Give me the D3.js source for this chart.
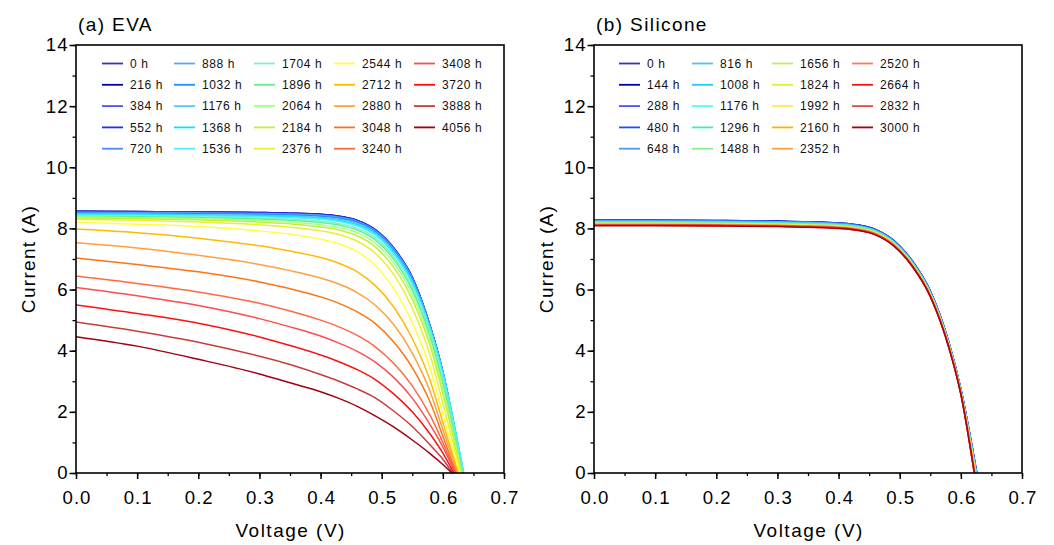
<!DOCTYPE html>
<html><head><meta charset="utf-8">
<script src="https://cdn.jsdelivr.net/npm/d3@7"></script>
<style>
body{margin:0;background:#fff;}
svg{display:block;font-family:"Liberation Sans",Arial,sans-serif;}
</style></head><body>
<svg id="chart" width="1054" height="545"></svg>
<script>
// ---------------- DATA ----------------
const voltageGrid = [0, 0.1, 0.2, 0.3, 0.35, 0.4, 0.43, 0.46, 0.49, 0.52, 0.55, 0.58, 0.6];

const evaHours = ["0 h","216 h","384 h","552 h","720 h","888 h","1032 h","1176 h","1368 h","1536 h","1704 h","1896 h","2064 h","2184 h","2376 h","2544 h","2712 h","2880 h","3048 h","3240 h","3408 h","3720 h","3888 h","4056 h"];
const evaColors = ["#3434b8","#0000b0","#5050f0","#1a30ff","#5088ff","#60a4ff","#1890ff","#60c4ff","#10e0ff","#50f0f8","#80f0d0","#60f090","#a8ff88","#c0f038","#e8f030","#ffff40","#ffbb00","#ffa040","#ff7410","#ff6840","#ff4c4c","#ff1010","#c83c3c","#a00010"];
const evaCurrent = [
  [8.56,8.55,8.54,8.52,8.50,8.46,8.40,8.26,7.95,7.35,6.40,4.75,3.30],
  [8.56,8.55,8.54,8.52,8.50,8.46,8.40,8.26,7.95,7.35,6.40,4.75,3.30],
  [8.55,8.54,8.53,8.51,8.49,8.45,8.39,8.25,7.94,7.34,6.39,4.75,3.30],
  [8.55,8.54,8.53,8.51,8.49,8.45,8.39,8.25,7.94,7.34,6.39,4.75,3.30],
  [8.53,8.52,8.51,8.49,8.47,8.43,8.37,8.23,7.92,7.32,6.37,4.74,3.30],
  [8.52,8.51,8.50,8.48,8.46,8.42,8.36,8.22,7.91,7.31,6.36,4.73,3.30],
  [8.50,8.49,8.48,8.46,8.44,8.40,8.34,8.20,7.89,7.28,6.33,4.72,3.30],
  [8.48,8.47,8.45,8.43,8.41,8.36,8.30,8.16,7.85,7.24,6.28,4.70,3.30],
  [8.46,8.45,8.43,8.40,8.38,8.33,8.26,8.12,7.81,7.20,6.24,4.66,3.26],
  [8.44,8.43,8.41,8.38,8.35,8.30,8.23,8.08,7.77,7.15,6.18,4.62,3.20],
  [8.42,8.40,8.38,8.34,8.31,8.24,8.16,8.01,7.69,7.06,6.08,4.52,3.05],
  [8.40,8.38,8.36,8.31,8.27,8.19,8.11,7.95,7.62,6.98,5.98,4.40,2.92],
  [8.37,8.35,8.32,8.26,8.21,8.12,8.03,7.86,7.51,6.86,5.84,4.26,2.76],
  [8.34,8.32,8.28,8.21,8.15,8.05,7.95,7.76,7.39,6.72,5.68,4.10,2.60],
  [8.30,8.27,8.21,8.12,8.04,7.92,7.80,7.58,7.18,6.48,5.40,3.80,2.28],
  [8.20,8.14,8.06,7.92,7.81,7.65,7.50,7.24,6.78,6.02,4.92,3.38,1.92],
  [7.98,7.86,7.68,7.43,7.26,7.05,6.86,6.58,6.12,5.42,4.40,2.98,1.65],
  [7.53,7.36,7.12,6.82,6.62,6.38,6.18,5.90,5.48,4.85,3.92,2.62,1.42],
  [7.03,6.82,6.58,6.25,6.03,5.76,5.55,5.27,4.88,4.28,3.45,2.28,1.20],
  [6.44,6.20,5.92,5.55,5.30,5.00,4.78,4.50,4.12,3.58,2.85,1.85,1.00],
  [6.07,5.80,5.48,5.05,4.78,4.48,4.25,3.98,3.62,3.12,2.45,1.55,0.85],
  [5.50,5.22,4.90,4.45,4.17,3.86,3.64,3.38,3.05,2.58,2.00,1.25,0.65],
  [4.94,4.64,4.28,3.82,3.55,3.22,3.00,2.75,2.45,2.02,1.52,0.90,0.45],
  [4.46,4.15,3.72,3.24,2.95,2.66,2.44,2.18,1.86,1.50,1.08,0.62,0.28]
];
const evaVoc = [0.632,0.632,0.632,0.632,0.633,0.633,0.633,0.634,0.634,0.634,0.632,0.632,0.631,0.630,0.629,0.627,0.625,0.624,0.622,0.621,0.620,0.618,0.616,0.615];

const siliconeHours = ["0 h","144 h","288 h","480 h","648 h","816 h","1008 h","1176 h","1296 h","1488 h","1656 h","1824 h","1992 h","2160 h","2352 h","2520 h","2664 h","2832 h","3000 h"];
const siliconeColors = ["#3434b8","#0000b0","#5050f0","#1a50ff","#4898ff","#58bcff","#18d0f0","#60f8f0","#38f0b0","#88f088","#b8f068","#e0f030","#ffe860","#ffb000","#ff9c48","#ff7858","#ff1010","#d85050","#a80010"];
const siliconeCurrent = [
  [8.27,8.27,8.26,8.24,8.22,8.18,8.12,7.97,7.61,6.95,5.95,4.30,2.75],
  [8.27,8.27,8.26,8.24,8.22,8.18,8.12,7.97,7.61,6.95,5.95,4.30,2.75],
  [8.26,8.26,8.25,8.23,8.21,8.17,8.11,7.96,7.60,6.94,5.94,4.29,2.74],
  [8.26,8.26,8.25,8.23,8.21,8.17,8.11,7.96,7.60,6.94,5.94,4.29,2.74],
  [8.25,8.25,8.24,8.22,8.20,8.16,8.10,7.95,7.59,6.93,5.93,4.28,2.73],
  [8.23,8.23,8.22,8.20,8.18,8.14,8.08,7.93,7.57,6.91,5.91,4.26,2.71],
  [8.22,8.22,8.21,8.19,8.17,8.13,8.07,7.92,7.56,6.90,5.90,4.25,2.70],
  [8.21,8.21,8.20,8.18,8.16,8.12,8.06,7.91,7.55,6.89,5.89,4.24,2.69],
  [8.20,8.20,8.19,8.17,8.15,8.11,8.05,7.90,7.54,6.88,5.88,4.23,2.68],
  [8.19,8.19,8.18,8.16,8.14,8.10,8.04,7.89,7.53,6.87,5.87,4.22,2.67],
  [8.17,8.17,8.16,8.14,8.12,8.08,8.02,7.87,7.51,6.85,5.85,4.20,2.65],
  [8.16,8.16,8.15,8.13,8.11,8.07,8.01,7.86,7.50,6.84,5.84,4.19,2.64],
  [8.15,8.15,8.14,8.12,8.10,8.06,8.00,7.85,7.49,6.83,5.83,4.18,2.63],
  [8.14,8.14,8.13,8.11,8.09,8.05,7.99,7.84,7.48,6.82,5.82,4.17,2.62],
  [8.13,8.13,8.12,8.10,8.08,8.04,7.98,7.83,7.47,6.81,5.81,4.16,2.61],
  [8.12,8.12,8.11,8.09,8.07,8.03,7.97,7.82,7.46,6.80,5.80,4.15,2.60],
  [8.11,8.11,8.10,8.08,8.06,8.02,7.96,7.81,7.45,6.79,5.79,4.14,2.59],
  [8.10,8.10,8.09,8.07,8.05,8.01,7.95,7.80,7.44,6.78,5.78,4.13,2.58],
  [8.09,8.09,8.08,8.06,8.04,8.00,7.94,7.79,7.43,6.77,5.77,4.12,2.57]
];
const siliconeVoc = [0.626,0.626,0.626,0.626,0.626,0.625,0.625,0.625,0.625,0.624,0.624,0.624,0.624,0.623,0.623,0.623,0.622,0.622,0.622];

const yTicks = [0,2,4,6,8,10,12,14];
const xTicks = [0,0.1,0.2,0.3,0.4,0.5,0.6,0.7];

// ---------------- DRAW ----------------
const svg = d3.select("#chart");
const plotTop = 45, plotBottom = 473;

const panels = [
  {x0:76, x1:504, title:"(a) EVA", hours:evaHours, colors:evaColors, current:evaCurrent, voc:evaVoc,
   legCols:[102,174,254,334,414]},
  {x0:594, x1:1022, title:"(b) Silicone", hours:siliconeHours, colors:siliconeColors, current:siliconeCurrent, voc:siliconeVoc,
   legCols:[619,692,772,852]}
];

panels.forEach(p => {
  const x = d3.scaleLinear().domain([0,0.7]).range([p.x0,p.x1]);
  const y = d3.scaleLinear().domain([0,14]).range([plotBottom,plotTop]);
  const g = svg.append("g");

  // curves
  const line = d3.line().x(d=>x(d[0])).y(d=>y(d[1])).curve(d3.curveMonotoneX);
  p.current.forEach((arr,i) => {
    const pts = voltageGrid.map((v,j)=>[v,arr[j]]);
    pts.push([p.voc[i],0]);
    g.append("path").attr("d",line(pts)).attr("fill","none")
      .attr("stroke",p.colors[i]).attr("stroke-width",1.5);
  });

  // minor ticks
  const minorX = d3.range(0,0.7001,0.05);
  const minorY = d3.range(0,14.001,1);
  g.append("g").attr("transform",`translate(0,${plotBottom})`)
    .call(d3.axisBottom(x).tickValues(minorX).tickSize(3).tickFormat(""))
    .call(a=>a.select(".domain").remove())
    .selectAll("line").attr("stroke-width",1.3);
  g.append("g").attr("transform",`translate(${p.x0},0)`)
    .call(d3.axisLeft(y).tickValues(minorY).tickSize(3.5).tickFormat(""))
    .call(a=>a.select(".domain").remove())
    .selectAll("line").attr("stroke-width",1.3);

  // major axes
  const ax = g.append("g").attr("transform",`translate(0,${plotBottom})`)
    .call(d3.axisBottom(x).tickValues(xTicks).tickSize(6).tickSizeOuter(0).tickPadding(12).tickFormat(d3.format(".1f")));
  const ay = g.append("g").attr("transform",`translate(${p.x0},0)`)
    .call(d3.axisLeft(y).tickValues(yTicks).tickSize(6.5).tickSizeOuter(0).tickPadding(1).tickFormat(d3.format("d")));
  [ax,ay].forEach(a=>{
    a.select(".domain").remove();
    a.selectAll("line").attr("stroke-width",1.5);
    a.selectAll("text").attr("font-size","18.6px").attr("fill","#000")
      .attr("letter-spacing","1px")
      .attr("font-family","'Liberation Sans',Arial,sans-serif");
  });
  ax.selectAll("text").attr("dy","0.72em").attr("dx","0.5px");

  // frame
  g.append("rect").attr("x",p.x0).attr("y",plotTop).attr("width",p.x1-p.x0).attr("height",plotBottom-plotTop)
    .attr("fill","none").attr("stroke","#000").attr("stroke-width",1.6);

  // titles
  g.append("text").attr("x",p.x0+2).attr("y",31).attr("font-size","19px")
    .attr("letter-spacing","1.4px").text(p.title);
  g.append("text").attr("x",(p.x0+p.x1)/2 + 0.7).attr("y",537).attr("text-anchor","middle")
    .attr("font-size","19px").attr("letter-spacing","1.5px").text("Voltage (V)");
  g.append("text").attr("transform",`translate(${p.x0-41},${(plotTop+plotBottom)/2}) rotate(-90)`)
    .attr("text-anchor","middle").attr("font-size","19px").attr("letter-spacing","1.3px").text("Current (A)");

  // legend
  const leg = g.append("g");
  p.hours.forEach((h,i)=>{
    const col = Math.floor(i/5), row = i%5;
    const lx = p.legCols[col], ly = 63.5 + row*21.3;
    leg.append("line").attr("x1",lx).attr("x2",lx+21).attr("y1",ly).attr("y2",ly)
      .attr("stroke",p.colors[i]).attr("stroke-width",1.8);
    leg.append("text").attr("x",lx+28).attr("y",ly+4.3).attr("font-size","12px")
      .attr("letter-spacing","0.6px").attr("fill","#111").text(h);
  });
});
</script>
</body></html>
